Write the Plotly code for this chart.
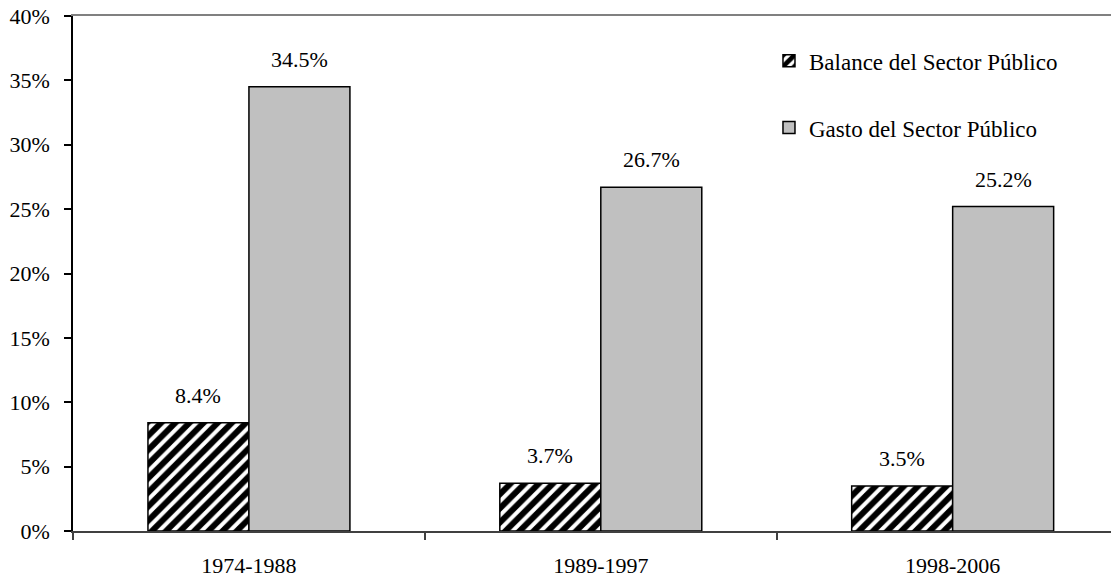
import plotly.graph_objects as go

categories = ["1974-1988", "1989-1997", "1998-2006"]
balance = [8.4, 3.7, 3.5]
gasto = [34.5, 26.7, 25.2]
series_names = ["Balance del Sector Público", "Gasto del Sector Público"]
y_ticks = [0, 5, 10, 15, 20, 25, 30, 35, 40]
y_tick_labels = [f"{v}%" for v in y_ticks]

FONT = "Liberation Serif"
BARGAP = 0.426
bar_w = (1 - BARGAP) / 2
X_RANGE = [-0.5, 2.45]

fig = go.Figure()
fig.add_trace(go.Bar(
    x=categories, y=balance, name=series_names[0],
    marker=dict(color="white", line=dict(color="black", width=1.5),
                pattern=dict(shape="/", fillmode="replace", fgcolor="#000000", fgopacity=1,
                             bgcolor="white", size=10, solidity=0.6)),
    legendgroup="a",
))
fig.add_trace(go.Bar(
    x=categories, y=gasto, name=series_names[1],
    marker=dict(color="#C0C0C0", line=dict(color="black", width=1.5)),
    legendgroup="b",
))

annotations = []
for i, (b, g) in enumerate(zip(balance, gasto)):
    for xv, yv in ((i - bar_w / 2, b), (i + bar_w / 2, g)):
        annotations.append(dict(
            x=xv, y=yv, xref="x", yref="y", text=f"{yv:.1f}%",
            showarrow=False, yanchor="bottom", xanchor="center", yshift=13,
            font=dict(family=FONT, size=22, color="black"),
        ))

fig.update_layout(
    width=1111, height=583,
    margin=dict(l=73, r=0, t=16, b=52),
    paper_bgcolor="white", plot_bgcolor="white",
    barmode="group", bargap=BARGAP, bargroupgap=0,
    font=dict(family=FONT, size=22, color="black"),
    showlegend=True,
    legend=dict(x=0.6705, y=0.955, xanchor="left", yanchor="top",
                traceorder="grouped", tracegroupgap=34,
                font=dict(family=FONT, size=23, color="black"),
                bgcolor="rgba(0,0,0,0)"),
    annotations=annotations,
    xaxis=dict(
        type="category", range=X_RANGE,
        showline=True, linecolor="#404040", linewidth=2,
        ticks="outside", tickson="boundaries", ticklen=7, tickcolor="#404040", tickwidth=1.5,
        showgrid=False, zeroline=False, ticklabelstandoff=14,
        tickfont=dict(family=FONT, size=22, color="black"),
    ),
    xaxis2=dict(
        overlaying="x", side="top", range=X_RANGE, type="linear",
        showline=True, linecolor="#808080", linewidth=2,
        showticklabels=False, ticks="", showgrid=False, zeroline=False,
    ),
    yaxis=dict(
        range=[0, 40], tickmode="array", tickvals=y_ticks, ticktext=y_tick_labels,
        showline=True, linecolor="black", linewidth=1.5,
        ticks="outside", ticklen=7, tickcolor="black", tickwidth=1.5,
        showgrid=False, zeroline=False, ticklabelstandoff=10,
        tickfont=dict(family=FONT, size=22, color="black"),
    ),
)
# invisible trace to activate the top frame axis
fig.add_trace(go.Scatter(x=[None], y=[None], xaxis="x2", yaxis="y", showlegend=False, hoverinfo="skip"))

fig.write_html("out.html", config={"displayModeBar": False},
               post_script="document.body.style.margin='0';")
